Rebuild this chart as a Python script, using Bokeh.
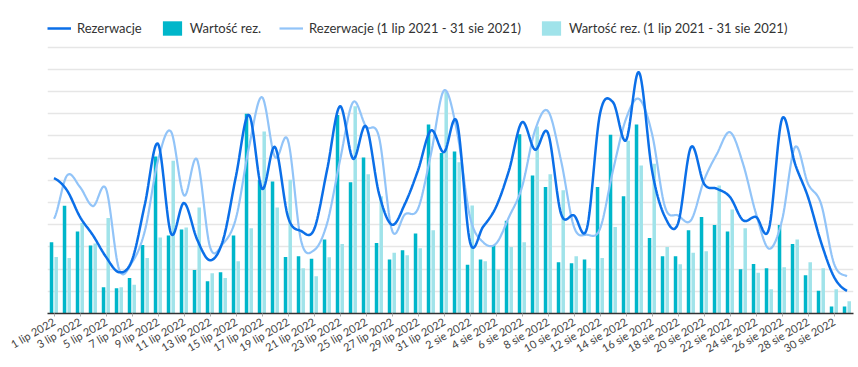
import numpy as np
from bokeh.plotting import figure
from bokeh.models import Range1d, FixedTicker, Legend, LegendItem
from bokeh.embed import file_html
from bokeh.resources import INLINE

# ---- data ----
months = ["lip"] * 31 + ["sie"] * 31
days = list(range(1, 32)) + list(range(1, 32))
dates = [f"{d} {m} 2022" for d, m in zip(days, months)]

wart_2022 = [3.21, 4.86, 3.69, 3.06, 1.18, 1.14, 1.60, 3.09, 7.08, 3.52,
             3.79, 1.96, 1.45, 1.86, 3.52, 9.00, 6.00, 5.95, 2.55, 2.58,
             2.47, 3.33, 8.95, 5.91, 7.03, 3.18, 2.43, 2.85, 3.60, 8.52,
             7.23, 7.30, 2.20, 2.43, 3.09, 4.18, 8.08, 6.22, 5.70, 2.31,
             2.26, 2.43, 5.70, 8.05, 5.28, 8.52, 3.40, 2.58, 2.58, 3.75,
             4.35, 3.99, 3.69, 1.99, 2.23, 2.04, 3.99, 3.13, 1.72, 1.02,
             0.31, 0.31]
wart_2021 = [2.55, 2.50, 4.08, 3.15, 4.30, 1.18, 1.29, 2.50, 3.43, 6.88,
             3.87, 4.78, 1.81, 1.60, 2.35, 3.84, 8.20, 4.78, 6.03, 2.04,
             1.68, 2.53, 3.13, 9.34, 6.28, 5.28, 2.74, 2.62, 2.94, 3.75,
             10.00, 6.81, 4.87, 2.35, 1.98, 3.00, 3.21, 8.43, 6.28, 5.55,
             2.58, 2.04, 2.50, 3.90, 7.78, 6.67, 6.75, 3.00, 2.22, 2.74,
             2.80, 5.77, 4.69, 3.84, 1.84, 1.09, 2.08, 3.33, 2.31, 2.04,
             1.09, 0.55]
rez_2022 = [6.10, 5.55, 4.35, 3.52, 2.55, 1.86, 2.40, 4.95, 7.65, 3.60,
            4.98, 3.35, 2.40, 3.30, 6.20, 8.95, 5.62, 7.50, 4.35, 3.72,
            3.78, 6.45, 9.34, 6.97, 8.43, 5.40, 4.00, 4.95, 6.45, 8.25,
            7.27, 8.62, 3.22, 3.90, 4.80, 6.45, 8.62, 7.38, 8.13, 4.50,
            4.42, 3.85, 9.00, 9.52, 7.80, 10.87, 6.45, 4.35, 4.05, 7.50,
            5.85, 5.62, 5.25, 4.20, 4.35, 3.82, 8.77, 6.75, 5.25, 3.22,
            1.65, 1.02]
rez_2021 = [4.27, 6.22, 5.70, 4.84, 5.62, 2.00, 2.30, 3.75, 6.90, 8.20,
            5.32, 6.94, 3.00, 3.15, 4.30, 7.50, 9.75, 7.05, 7.80, 3.30,
            2.85, 4.05, 6.90, 9.52, 8.43, 7.95, 3.75, 4.47, 4.72, 7.20,
            10.05, 8.20, 4.35, 3.22, 3.15, 4.35, 5.70, 8.25, 9.12, 6.90,
            3.90, 3.55, 3.82, 6.45, 8.77, 9.67, 8.10, 4.80, 4.42, 4.20,
            6.00, 7.20, 8.17, 6.75, 4.50, 2.92, 4.20, 7.50, 5.85, 4.95,
            2.25, 1.68]

legend_labels = ["Rezerwacje", "Wartość rez.",
                 "Rezerwacje (1 lip 2021 - 31 sie 2021)",
                 "Wartość rez. (1 lip 2021 - 31 sie 2021)"]
grid_levels = list(range(0, 13))

# ---- helpers ----
def catmull(xs, ys, n=16):
    xs = list(xs); ys = list(ys)
    ox, oy = [], []
    m = len(ys)
    for i in range(m - 1):
        p0 = ys[max(i - 1, 0)]; p1 = ys[i]; p2 = ys[i + 1]; p3 = ys[min(i + 2, m - 1)]
        for t in np.linspace(0, 1, n, endpoint=False):
            y = 0.5 * (2 * p1 + (-p0 + p2) * t + (2 * p0 - 5 * p1 + 4 * p2 - p3) * t ** 2
                       + (-p0 + 3 * p1 - 3 * p2 + p3) * t ** 3)
            ox.append(float(xs[i] + t * (xs[i + 1] - xs[i])))
            oy.append(float(y))
    ox.append(float(xs[-1])); oy.append(float(ys[-1]))
    return ox, oy

FONT = "Lato"
x = [float(i) for i in range(len(dates))]
x_dark = [v - 0.19 for v in x]
x_light = [v + 0.17 for v in x]

W, H = 858, 367
B_L, B_R, B_T, B_B = 47, 5, 10, 54
frame_h = H - B_T - B_B
unit_px = 266.3 / 12.0
y_top = frame_h / unit_px

p = figure(width=W, height=H, output_backend="svg", toolbar_location=None,
           x_range=Range1d(-0.5, len(dates) - 0.5), y_range=Range1d(0, y_top),
           min_border_left=B_L, min_border_right=B_R, min_border_top=B_T, min_border_bottom=B_B)
p.outline_line_color = None
p.background_fill_color = "white"

c_bar = "#00b6ca"
c_bar_old = "#a0e3ea"
c_line = "#0b6fe8"
c_line_old = "#92c4f8"

r_b1 = p.vbar(x=x_dark, top=wart_2022, width=0.27, color=c_bar, line_color=None)
r_b2 = p.vbar(x=x_light, top=wart_2021, width=0.27, color=c_bar_old, line_color=None)
sx, sy = catmull(x, rez_2021)
r_l2 = p.line(sx, sy, line_color=c_line_old, line_width=2.2)
sx, sy = catmull(x, rez_2022)
r_l1 = p.line(sx, sy, line_color=c_line, line_width=2.5)

p.yaxis.visible = False
p.ygrid.ticker = FixedTicker(ticks=grid_levels)
p.ygrid.grid_line_color = "#e6e6e6"
p.ygrid.grid_line_width = 1.5
p.xgrid.visible = False

ax = p.xaxis[0]
ax.ticker = FixedTicker(ticks=list(range(0, len(dates), 2)))
ax.major_label_overrides = {i: dates[i] for i in range(0, len(dates), 2)}
ax.major_label_orientation = 0.52
ax.major_label_text_font = FONT
ax.major_label_text_font_size = "11px"
ax.major_label_text_color = "#444444"
ax.axis_line_color = "#333333"
ax.axis_line_width = 1.5
ax.major_tick_line_color = "#aaaaaa"
ax.major_tick_out = 3
ax.major_tick_in = 0
ax.minor_tick_line_color = None
ax.major_label_standoff = 4

legend = Legend(items=[LegendItem(label=legend_labels[0], renderers=[r_l1]),
                       LegendItem(label=legend_labels[1], renderers=[r_b1]),
                       LegendItem(label=legend_labels[2], renderers=[r_l2]),
                       LegendItem(label=legend_labels[3], renderers=[r_b2])],
                orientation="horizontal", location=(0, 276))
legend.label_text_font = FONT
legend.label_text_font_size = "13px"
legend.label_text_color = "#333333"
legend.glyph_width = 24
legend.glyph_height = 18
legend.spacing = 18
legend.label_standoff = 6
legend.padding = 0
legend.margin = 0
legend.border_line_alpha = 0
legend.background_fill_alpha = 0
p.add_layout(legend, "center")

open("out.html", "w").write(file_html(p, INLINE))
